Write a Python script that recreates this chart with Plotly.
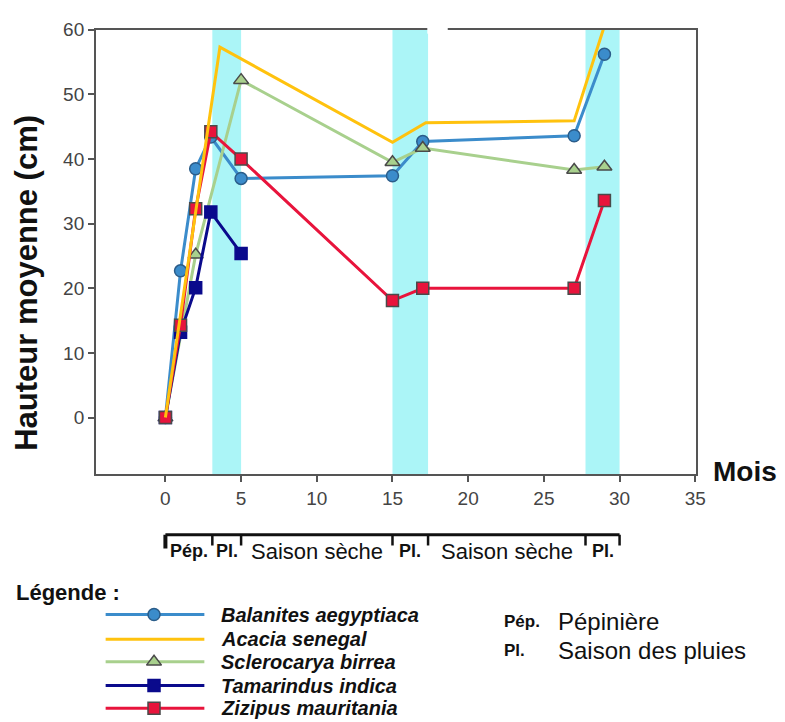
import plotly.graph_objects as go

# ---- data -------------------------------------------------------------
months = [0, 1, 2, 3, 5, 15, 17, 27, 29]

balanites = [0, 22.7, 38.5, 43.4, 37.0, 37.4, 42.7, 43.6, 56.2]
sclerocarya_x = [0, 2, 5, 15, 17, 27, 29]
sclerocarya = [0, 25.2, 52.2, 39.5, 41.7, 38.3, 38.8]
tamarindus_x = [0, 1, 2, 3, 5]
tamarindus = [0, 13.2, 20.1, 31.8, 25.4]
zizipus = [0, 14.3, 32.3, 44.2, 40.0, 18.1, 20.0, 20.0, 33.6]
acacia_x = [0, 3.6, 15, 17.2, 27, 29]
acacia = [0, 57.3, 42.6, 45.6, 45.9, 60.6]

# season periods along the month axis
period_edges = [0, 3.1, 5, 15, 17.35, 27.75, 30]
period_labels = ["Pép.", "Pl.", "Saison sèche", "Pl.", "Saison sèche", "Pl."]
period_bold = [True, True, False, True, False, True]
rain_bands = [(3.1, 5), (15, 17.35), (27.75, 30)]

y_ticks = [0, 10, 20, 30, 40, 50, 60]
x_ticks = [0, 5, 10, 15, 20, 25, 30, 35]

species = ["Balanites aegyptiaca", "Acacia senegal", "Sclerocarya birrea",
           "Tamarindus indica", "Zizipus mauritania"]

# ---- styling ----------------------------------------------------------
W, H = 785, 722
FONT = "Liberation Sans, Arial, sans-serif"
AX = "#555555"

styles = {
    "Balanites aegyptiaca": dict(color="#3b8ccb", symbol="circle", size=12,
                                 mfill="#3b8ccb", medge="#2b5d8a"),
    "Acacia senegal": dict(color="#ffc20e", symbol=None),
    "Sclerocarya birrea": dict(color="#a8d08d", symbol="triangle-up", size=13,
                               mfill="#a8d08d", medge="#4a4a4a"),
    "Tamarindus indica": dict(color="#0a0a8c", symbol="square", size=12,
                              mfill="#0a0a8c", medge="#0a0a8c"),
    "Zizipus mauritania": dict(color="#e8143c", symbol="square", size=12,
                               mfill="#e8143c", medge="#4a4a4a"),
}

# drawing order (later series sit on top)
series = {
    "Balanites aegyptiaca": (months, balanites),
    "Sclerocarya birrea": (sclerocarya_x, sclerocarya),
    "Tamarindus indica": (tamarindus_x, tamarindus),
    "Zizipus mauritania": (months, zizipus),
    "Acacia senegal": (acacia_x, acacia),
}


def px_x(p):
    return p / W


def px_y(p):
    return 1 - p / H


fig = go.Figure()

for name, (xs, ys) in series.items():
    st = styles[name]
    kw = dict(x=xs, y=ys, name=name, showlegend=False,
              line=dict(color=st["color"], width=3), xaxis="x", yaxis="y")
    if st["symbol"]:
        kw["mode"] = "lines+markers"
        kw["marker"] = dict(symbol=st["symbol"], size=st["size"], color=st["mfill"],
                            line=dict(color=st["medge"], width=1.5))
    else:
        kw["mode"] = "lines"
    fig.add_trace(go.Scatter(**kw))

# ---- legend drawn on a pixel-scaled helper axis -----------------------
legend_rows = [613, 638, 661, 685, 708]
for name, row in zip(species, legend_rows):
    st = styles[name]
    fig.add_trace(go.Scatter(x=[107, 207], y=[row, row], mode="lines",
                             line=dict(color=st["color"], width=3),
                             xaxis="x2", yaxis="y2", showlegend=False, hoverinfo="skip"))
    if st["symbol"]:
        fig.add_trace(go.Scatter(x=[156], y=[row], mode="markers",
                                 marker=dict(symbol=st["symbol"], size=st["size"], color=st["mfill"],
                                             line=dict(color=st["medge"], width=1.5)),
                                 xaxis="x2", yaxis="y2", showlegend=False, hoverinfo="skip"))

annotations = []
for name, row in zip(species, legend_rows):
    annotations.append(dict(x=px_x(222), y=px_y(row), xref="paper", yref="paper",
                            text=f"<b><i>{name}</i></b>", showarrow=False,
                            xanchor="left", yanchor="middle",
                            font=dict(family=FONT, size=20, color="#111")))

annotations.append(dict(x=px_x(14), y=px_y(591), xref="paper", yref="paper",
                        text="<b>Légende :</b>", showarrow=False, xanchor="left",
                        yanchor="middle", font=dict(family=FONT, size=22, color="#111")))

for abbr, full, row in [("Pép.", "Pépinière", 620), ("Pl.", "Saison des pluies", 650)]:
    annotations.append(dict(x=px_x(508), y=px_y(row), xref="paper", yref="paper",
                            text=f"<b>{abbr}</b>", showarrow=False, xanchor="left",
                            yanchor="middle", font=dict(family=FONT, size=17, color="#111")))
    annotations.append(dict(x=px_x(563), y=px_y(row), xref="paper", yref="paper",
                            text=full, showarrow=False, xanchor="left",
                            yanchor="middle", font=dict(family=FONT, size=24, color="#111")))

# axis titles
annotations.append(dict(x=px_x(26), y=px_y(277), xref="paper", yref="paper",
                        text="<b>Hauteur moyenne (cm)</b>", textangle=-90, showarrow=False,
                        xanchor="center", yanchor="middle",
                        font=dict(family=FONT, size=31, color="#111")))
annotations.append(dict(x=px_x(720), y=px_y(468), xref="paper", yref="paper",
                        text="<b>Mois</b>", showarrow=False, xanchor="left",
                        yanchor="middle", font=dict(family=FONT, size=28, color="#111")))

# season labels under the month axis
for i, lab in enumerate(period_labels):
    mid = (period_edges[i] + period_edges[i + 1]) / 2
    txt = f"<b>{lab}</b>" if period_bold[i] else lab
    annotations.append(dict(x=mid, y=px_y(549), xref="x", yref="paper", text=txt,
                            showarrow=False, xanchor="center", yanchor="middle",
                            font=dict(family=FONT, size=18 if period_bold[i] else 22,
                                      color="#111")))

shapes = []
for a, b in rain_bands:
    shapes.append(dict(type="rect", xref="x", yref="y domain", x0=a, x1=b, y0=0, y1=1,
                       fillcolor="#abf5f7", line=dict(width=0), layer="below"))

# bracket marking the periods
shapes.append(dict(type="line", xref="x", yref="paper", x0=period_edges[0], x1=period_edges[-1],
                   y0=px_y(532), y1=px_y(532), line=dict(color="#111", width=3)))
for j, e in enumerate(period_edges):
    shapes.append(dict(type="line", xref="x", yref="paper", x0=e, x1=e,
                       y0=px_y(532), y1=px_y(546 if j == 0 else 543),
                       line=dict(color="#111", width=4 if j == 0 else 2.5)))

# small break in the top frame
shapes.append(dict(type="rect", xref="x", yref="paper", x0=17.3, x1=18.65,
                   y0=px_y(24), y1=px_y(16), fillcolor="white", line=dict(width=0),
                   layer="above"))

fig.update_layout(
    width=W, height=H,
    margin=dict(l=0, r=0, t=0, b=0),
    paper_bgcolor="white", plot_bgcolor="rgba(0,0,0,0)",
    showlegend=False,
    xaxis=dict(domain=[px_x(97), px_x(705)], range=[-4.6, 35.05], tickvals=x_ticks,
               ticks="outside", ticklen=6, tickwidth=1.5, tickcolor=AX,
               showline=True, linecolor=AX, linewidth=1.5, mirror=True,
               showgrid=False, zeroline=False, anchor="y",
               tickfont=dict(family=FONT, size=19, color="#444")),
    yaxis=dict(domain=[px_y(471), px_y(20)], range=[-8.8, 60], tickvals=y_ticks,
               ticks="outside", ticklen=6, tickwidth=1.5, tickcolor=AX,
               showline=True, linecolor=AX, linewidth=1.5, mirror=True,
               showgrid=False, zeroline=False, anchor="x",
               tickfont=dict(family=FONT, size=19, color="#444")),
    xaxis2=dict(domain=[0, 1], range=[0, W], visible=False, anchor="y2", fixedrange=True),
    yaxis2=dict(domain=[0, 1], range=[H, 0], visible=False, anchor="x2", fixedrange=True),
    annotations=annotations,
    shapes=shapes,
)

fig.write_html("out.html")
